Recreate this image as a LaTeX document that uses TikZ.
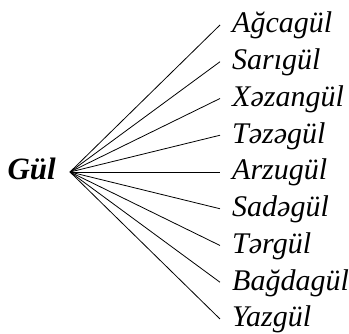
\documentclass[tikz,border=0pt]{standalone}
\usepackage{fontspec}
\setmainfont{Liberation Serif}
\begin{document}
\begin{tikzpicture}[x=1pt,y=1pt,
    word/.style={anchor=west,inner xsep=12pt,inner ysep=0pt,text height=21pt,text depth=5pt,font=\fontsize{30}{32}\selectfont\itshape},
    root/.style={anchor=east,inner xsep=14pt,inner ysep=0pt,text height=21pt,text depth=5pt,font=\fontsize{31}{32}\selectfont\bfseries\itshape},
    branch/.style={line width=0.8pt}
]
\useasboundingbox (0,0) rectangle (349,334);
\node[root] (gul) at (70,162) {Gül};
% words fanning out from the root
\foreach \w [count=\i] in {Ağcagül,Sarıgül,Xəzangül,Təzəgül,Arzugül,Sadəgül,Tərgül,Bağdagül,Yazgül}{
  \node[word] (w\i) at (220,{334-25-36.75*(\i-1)}) {\w};
  \draw[branch] (gul.east) -- (w\i.west);
}
\end{tikzpicture}
\end{document}
